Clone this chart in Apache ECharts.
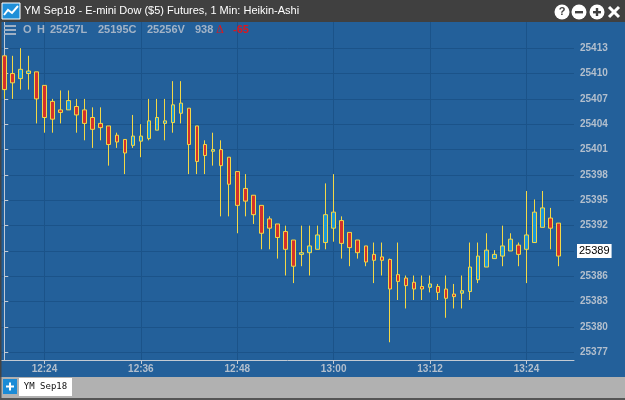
<!DOCTYPE html>
<html>
<head>
<meta charset="utf-8">
<title>YM Sep18 Heikin-Ashi</title>
<script src="https://cdn.jsdelivr.net/npm/echarts@6/dist/echarts.min.js"></script>
<style>
  html, body { margin: 0; padding: 0; background: #fff; }
  #chart { width: 625px; height: 400px; }
</style>
</head>
<body>
<div id="chart"></div>
<script>
// minute bars, 12:19 .. 13:28
var times = ['12:19','12:20','12:21','12:22','12:23','12:24','12:25','12:26','12:27','12:28',
  '12:29','12:30','12:31','12:32','12:33','12:34','12:35','12:36','12:37','12:38',
  '12:39','12:40','12:41','12:42','12:43','12:44','12:45','12:46','12:47','12:48',
  '12:49','12:50','12:51','12:52','12:53','12:54','12:55','12:56','12:57','12:58',
  '12:59','13:00','13:01','13:02','13:03','13:04','13:05','13:06','13:07','13:08',
  '13:09','13:10','13:11','13:12','13:13','13:14','13:15','13:16','13:17','13:18',
  '13:19','13:20','13:21','13:22','13:23','13:24','13:25','13:26','13:27','13:28'];

var opens = [25412.1,25410.0,25409.4,25410.0,25410.2,25408.6,25406.7,25405.7,25405.7,25406.1,
  25405.7,25404.8,25404.1,25403.8,25402.7,25402.2,25401.5,25402.0,25402.3,25403.3,
  25404.1,25404.2,25405.3,25405.9,25403.8,25401.6,25400.8,25401.0,25400.1,25398.4,
  25396.4,25395.6,25394.4,25392.8,25392.2,25391.3,25390.3,25388.6,25388.8,25389.2,
  25390.0,25391.7,25392.6,25391.2,25390.3,25389.6,25388.6,25388.3,25388.0,25386.2,
  25385.8,25385.3,25384.8,25384.7,25384.8,25384.5,25383.9,25384.0,25384.2,25385.6,
  25387.1,25388.1,25388.4,25389.0,25389.7,25389.2,25390.0,25391.8,25392.9,25392.3];

var closes = [25408.1,25408.9,25410.5,25410.3,25407.0,25404.8,25404.6,25405.4,25406.8,25405.1,
  25404.1,25403.4,25403.6,25401.6,25401.9,25400.6,25402.6,25402.6,25404.4,25404.8,
  25404.4,25406.3,25406.5,25401.6,25399.6,25400.3,25401.0,25399.1,25396.9,25394.4,
  25394.9,25393.3,25391.1,25391.7,25390.6,25389.2,25387.2,25388.8,25389.6,25390.9,
  25393.3,25393.6,25389.9,25389.4,25388.8,25387.7,25387.9,25387.9,25384.5,25385.4,
  25384.9,25384.5,25384.5,25385.1,25384.1,25383.4,25383.6,25384.3,25387.1,25388.4,
  25389.1,25388.6,25389.6,25390.4,25388.6,25390.9,25393.6,25394.1,25391.7,25388.4];

var lows = [25407.0,25407.0,25408.1,25408.1,25404.1,25403.0,25403.0,25404.1,25405.7,25403.0,
  25402.1,25401.2,25402.1,25399.1,25401.2,25398.1,25401.2,25400.1,25402.1,25403.3,
  25402.1,25403.0,25404.1,25398.1,25398.1,25398.1,25399.1,25393.1,25393.1,25391.1,
  25393.1,25392.2,25389.2,25389.2,25388.1,25386.1,25385.2,25387.2,25386.1,25389.2,
  25389.2,25390.1,25388.1,25387.2,25388.1,25387.2,25385.2,25386.1,25378.2,25383.2,
  25382.2,25383.2,25383.2,25384.1,25383.2,25381.1,25382.2,25382.2,25383.2,25385.2,
  25387.1,25388.1,25387.2,25389.0,25387.2,25385.2,25390.0,25391.8,25389.2,25387.2];

var highs = [25412.1,25412.1,25413.0,25412.1,25410.2,25408.6,25407.0,25408.0,25408.0,25407.0,
  25407.0,25406.0,25406.0,25403.8,25403.0,25402.2,25405.1,25404.0,25407.0,25407.0,
  25407.0,25409.1,25409.1,25405.9,25403.8,25402.1,25403.0,25402.1,25400.1,25398.4,
  25398.1,25395.6,25394.4,25393.1,25392.2,25392.0,25390.3,25392.0,25392.0,25392.0,
  25397.0,25398.1,25393.1,25391.2,25390.3,25389.6,25390.0,25390.0,25388.1,25390.0,
  25386.1,25386.1,25386.1,25386.1,25385.1,25386.1,25385.1,25386.1,25390.0,25390.0,
  25391.1,25389.1,25392.0,25391.1,25390.0,25396.1,25395.1,25396.1,25394.1,25392.3];

var xTickLabels = ['12:24','12:36','12:48','13:00','13:12','13:24'];
var yTickValues = [25377,25380,25383,25386,25389,25392,25395,25398,25401,25404,25407,25410,25413];
var lastPrice = 25389;

var candles = times.map(function (t, i) {
  return [i, opens[i], closes[i], lows[i], highs[i]];
});
var xTicks = xTickLabels.map(function (t) { return times.indexOf(t); });

var axisGrey = '#c3cad3';
var labelGrey = '#b3bfcd';
var gridBlue = '#1b5389';
var infoGrey = '#a3b3c6';

function infoText(x, text, color) {
  return {
    type: 'text', z: 100, x: x, y: 30,
    style: { text: text, fill: color || infoGrey, font: 'bold 11px Liberation Sans', verticalAlign: 'middle', textVerticalAlign: 'middle' }
  };
}

var chart = echarts.init(document.getElementById('chart'));

chart.setOption({
  animation: false,
  backgroundColor: '#23609a',
  grid: { left: 1, right: 51, top: 22, bottom: 40 },
  xAxis: {
    type: 'value',
    min: -0.41,
    max: 70.92,
    axisLine: { show: true, lineStyle: { color: axisGrey, width: 1 } },
    axisTick: { show: true, customValues: xTicks, length: 4, lineStyle: { color: axisGrey } },
    axisLabel: {
      customValues: xTicks,
      formatter: function (v) { return times[Math.round(v)]; },
      color: labelGrey, fontSize: 10, fontWeight: 'bold',
      fontFamily: 'Liberation Sans', margin: 4
    },
    splitLine: { show: true, lineStyle: { color: gridBlue, width: 1 } }
  },
  yAxis: {
    type: 'value',
    position: 'right',
    min: 25376.1,
    max: 25416.1,
    axisLine: { show: true, lineStyle: { color: axisGrey, width: 1 } },
    axisTick: { show: true, customValues: yTickValues, length: 4, lineStyle: { color: axisGrey } },
    axisLabel: {
      customValues: yTickValues,
      formatter: function (v) { return String(Math.round(v)); },
      color: labelGrey, fontSize: 10, fontWeight: 'bold',
      fontFamily: 'Liberation Sans', margin: 6
    },
    splitLine: { show: true, lineStyle: { color: gridBlue, width: 1 } }
  },
  series: [{
    type: 'candlestick',
    data: candles,
    barWidth: 4,
    itemStyle: {
      color: '#1a97d8',
      color0: '#d3302c',
      borderColor: '#f3d846',
      borderColor0: '#f3d846',
      borderWidth: 1
    },
    markLine: {
      silent: true,
      symbol: 'none',
      data: [{ yAxis: lastPrice }],
      lineStyle: { color: 'rgba(0,0,0,0)', width: 0 },
      label: {
        show: true,
        position: 'end',
        distance: 3,
        formatter: String(lastPrice),
        color: '#000',
        backgroundColor: '#fff',
        padding: [2, 2, 1, 2],
        fontSize: 11,
        fontFamily: 'Liberation Sans'
      }
    }
  }],
  graphic: [
    // title bar
    { type: 'rect', z: 100, shape: { x: 0, y: 0, width: 625, height: 22 }, style: { fill: '#404040' } },
    { type: 'rect', z: 101, shape: { x: 2, y: 3, width: 18, height: 16 }, style: { fill: '#1f8fd8', stroke: '#fff', lineWidth: 1 } },
    { type: 'polyline', z: 102, shape: { points: [[4, 15], [8, 10], [12, 13], [18, 6]] }, style: { stroke: '#fff', lineWidth: 2, fill: null } },
    { type: 'text', z: 101, x: 24, y: 11, style: { text: 'YM Sep18 - E-mini Dow ($5) Futures, 1 Min: Heikin-Ashi', fill: '#fff', font: '11px Liberation Sans', verticalAlign: 'middle', textVerticalAlign: 'middle' } },
    { type: 'circle', z: 101, shape: { cx: 562, cy: 12, r: 7.5 }, style: { fill: '#fff' } },
    { type: 'text', z: 102, x: 562, y: 12, style: { text: '?', fill: '#404040', font: 'bold 11px Liberation Sans', align: 'center', verticalAlign: 'middle', textAlign: 'center', textVerticalAlign: 'middle' } },
    { type: 'circle', z: 101, shape: { cx: 579, cy: 12, r: 7.5 }, style: { fill: '#fff' } },
    { type: 'rect', z: 102, shape: { x: 575, y: 11, width: 8, height: 2.4 }, style: { fill: '#404040' } },
    { type: 'circle', z: 101, shape: { cx: 597, cy: 12, r: 7.5 }, style: { fill: '#fff' } },
    { type: 'rect', z: 102, shape: { x: 593, y: 11, width: 8, height: 2.4 }, style: { fill: '#404040' } },
    { type: 'rect', z: 102, shape: { x: 595.8, y: 8, width: 2.4, height: 8 }, style: { fill: '#404040' } },
    { type: 'line', z: 101, shape: { x1: 609, y1: 7, x2: 619, y2: 17 }, style: { stroke: '#fff', lineWidth: 3 } },
    { type: 'line', z: 101, shape: { x1: 619, y1: 7, x2: 609, y2: 17 }, style: { stroke: '#fff', lineWidth: 3 } },
    // info line
    { type: 'rect', z: 100, shape: { x: 4, y: 25, width: 12, height: 2 }, style: { fill: '#9fb0c4' } },
    { type: 'rect', z: 100, shape: { x: 4, y: 29, width: 12, height: 2 }, style: { fill: '#9fb0c4' } },
    { type: 'rect', z: 100, shape: { x: 4, y: 33, width: 12, height: 2 }, style: { fill: '#9fb0c4' } },
    infoText(23, 'O'),
    infoText(37, 'H'),
    infoText(50, '25257L'),
    infoText(98, '25195C'),
    infoText(147, '25256V'),
    infoText(195, '938'),
    { type: 'text', z: 100, x: 216, y: 30, style: { text: 'Δ', fill: '#e0161b', font: '11px DejaVu Serif', verticalAlign: 'middle', textVerticalAlign: 'middle' } },
    infoText(233, '-65', '#e0161b'),
    // left window border
    { type: 'rect', z: 100, shape: { x: 0, y: 22, width: 1.5, height: 378 }, style: { fill: '#444' } },
    // bottom tab bar
    { type: 'rect', z: 100, shape: { x: 0, y: 377, width: 625, height: 23 }, style: { fill: '#b1b1b1' } },
    { type: 'rect', z: 101, shape: { x: 0, y: 398, width: 625, height: 2 }, style: { fill: '#555' } },
    { type: 'rect', z: 101, shape: { x: 0, y: 377, width: 1.5, height: 23 }, style: { fill: '#555' } },
    { type: 'rect', z: 101, shape: { x: 3, y: 379, width: 14, height: 15 }, style: { fill: '#1b8bd6' } },
    { type: 'rect', z: 102, shape: { x: 6, y: 385.5, width: 8, height: 2 }, style: { fill: '#fff' } },
    { type: 'rect', z: 102, shape: { x: 9, y: 382.5, width: 2, height: 8 }, style: { fill: '#fff' } },
    { type: 'rect', z: 101, shape: { x: 19, y: 378, width: 53, height: 18 }, style: { fill: '#fff' } },
    { type: 'text', z: 102, x: 45.5, y: 387, style: { text: 'YM Sep18', fill: '#111', font: '9px DejaVu Sans Mono', align: 'center', verticalAlign: 'middle', textAlign: 'center', textVerticalAlign: 'middle' } }
  ]
});
</script>
</body>
</html>
